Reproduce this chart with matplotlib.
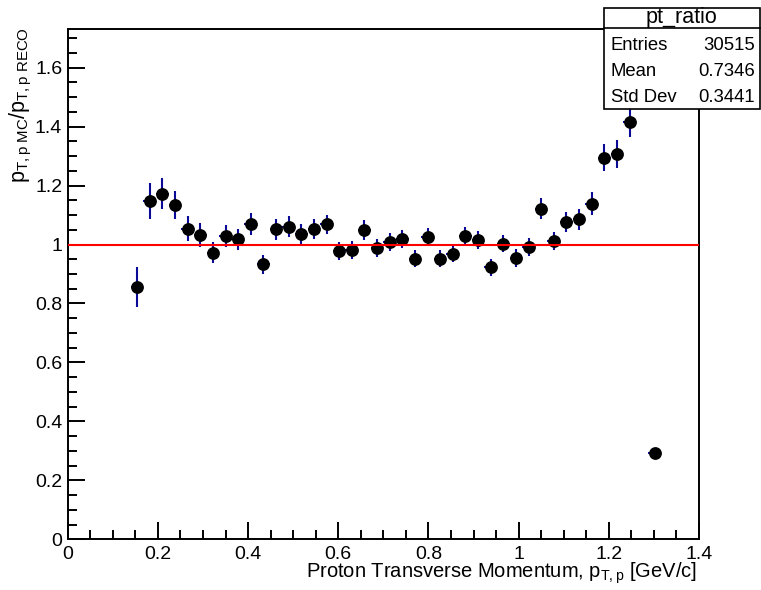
import matplotlib
matplotlib.use("Agg")
import matplotlib.pyplot as plt
from matplotlib.ticker import MultipleLocator, FuncFormatter
from matplotlib.patches import Rectangle
from matplotlib.lines import Line2D

plt.rcParams['font.family'] = ['Liberation Sans', 'DejaVu Sans']
plt.rcParams['mathtext.fontset'] = 'custom'
plt.rcParams['mathtext.rm'] = 'Liberation Sans'
plt.rcParams['mathtext.it'] = 'Liberation Sans:italic'
plt.rcParams['mathtext.bf'] = 'Liberation Sans:bold'

# Histogram pt_ratio: bin centres (GeV/c), bin half-width, contents and errors
pt_centers = [0.154, 0.182, 0.210, 0.238, 0.266, 0.294, 0.322, 0.350, 0.378,
              0.406, 0.434, 0.462, 0.490, 0.518, 0.546, 0.574, 0.602, 0.630,
              0.658, 0.686, 0.714, 0.742, 0.770, 0.798, 0.826, 0.854, 0.882,
              0.910, 0.938, 0.966, 0.994, 1.022, 1.050, 1.078, 1.106, 1.134,
              1.162, 1.190, 1.218, 1.246, 1.302]
bin_half_width = 0.014
ratio = [0.856, 1.148, 1.173, 1.134, 1.053, 1.033, 0.972, 1.028, 1.018,
         1.070, 0.933, 1.052, 1.060, 1.034, 1.052, 1.068, 0.977, 0.982,
         1.049, 0.988, 1.009, 1.019, 0.951, 1.026, 0.951, 0.968, 1.028,
         1.015, 0.923, 1.003, 0.955, 0.991, 1.121, 1.012, 1.077, 1.085,
         1.139, 1.295, 1.307, 1.415, 0.294]
ratio_err = [0.068, 0.061, 0.053, 0.048, 0.042, 0.041, 0.036, 0.037, 0.036,
             0.037, 0.033, 0.036, 0.036, 0.034, 0.034, 0.033, 0.030, 0.030,
             0.033, 0.030, 0.030, 0.031, 0.029, 0.030, 0.029, 0.029, 0.030,
             0.030, 0.029, 0.030, 0.030, 0.031, 0.036, 0.031, 0.034, 0.035,
             0.038, 0.045, 0.047, 0.049, 0.012]

x_range = (0.0, 1.4)
y_range = (0.0, 1.73)
reference_level = 1.0

stats_title = "pt_ratio"
stats_rows = [("Entries", "30515"), ("Mean", "0.7346"), ("Std Dev", "0.3441")]

W, H = 761, 590
fig = plt.figure(figsize=(W / 100, H / 100), dpi=100)
ax = fig.add_axes([67.7 / W, 1 - 539.3 / H, (699 - 67.7) / W, (539.3 - 29.3) / H])

ax.errorbar(pt_centers, ratio, yerr=ratio_err,
            xerr=[bin_half_width] * len(pt_centers),
            fmt='o', color='black', markersize=8.2,
            ecolor='#0a0a96', elinewidth=1.5, capsize=0, zorder=3)

ax.axhline(reference_level, color='#ff0000', linewidth=1.5, zorder=4)

ax.set_xlim(*x_range)
ax.set_ylim(*y_range)

fmt = FuncFormatter(lambda v, p: '%g' % round(v, 2))
ax.xaxis.set_major_locator(MultipleLocator(0.2))
ax.xaxis.set_minor_locator(MultipleLocator(0.05))
ax.yaxis.set_major_locator(MultipleLocator(0.2))
ax.yaxis.set_minor_locator(MultipleLocator(0.05))
ax.xaxis.set_major_formatter(fmt)
ax.yaxis.set_major_formatter(fmt)

ax.tick_params(which='both', direction='in', top=False, right=False,
               width=1.4, labelsize=14)
ax.tick_params(which='major', length=12.5)
ax.tick_params(which='minor', length=6.5)
ax.tick_params(axis='x', pad=4.5)
ax.tick_params(axis='y', pad=4)
for s in ax.spines.values():
    s.set_linewidth(1.4)

fig.text(697 / W, 1 - 578 / H,
         r"Proton Transverse Momentum, $\mathregular{p_{T,p}}$ [GeV/c]",
         fontsize=14.5, ha='right', va='baseline')
fig.text(21 / W, 1 - 27 / H,
         r"$\mathregular{p_{T,p\ MC}/p_{T,p\ RECO}}$",
         rotation=90, ha='center', va='top', fontsize=15.5)

# Statistics box
bx0, by0, bx1, by1 = 604, 7.5, 759.5, 108.5
fig.patches.append(Rectangle((bx0 / W, 1 - by1 / H), (bx1 - bx0) / W,
                             (by1 - by0) / H, transform=fig.transFigure,
                             facecolor='white', edgecolor='black',
                             linewidth=1.2, zorder=10))
fig.lines.append(Line2D([bx0 / W, bx1 / W], [1 - 28 / H, 1 - 28 / H],
                        transform=fig.transFigure, color='black',
                        linewidth=1.2, zorder=11))
fig.text((bx0 + bx1) / 2 / W, 1 - 17 / H, stats_title, ha='center',
         va='center', fontsize=15.5, zorder=12)
row_y = [46, 71.5, 97]
for (name, val), yy in zip(stats_rows, row_y):
    fig.text(611 / W, 1 - yy / H, name, ha='left', va='center',
             fontsize=13.3, zorder=12)
    fig.text(755 / W, 1 - yy / H, val, ha='right', va='center',
             fontsize=13.3, zorder=12)

fig.savefig("out.png", dpi=100)
